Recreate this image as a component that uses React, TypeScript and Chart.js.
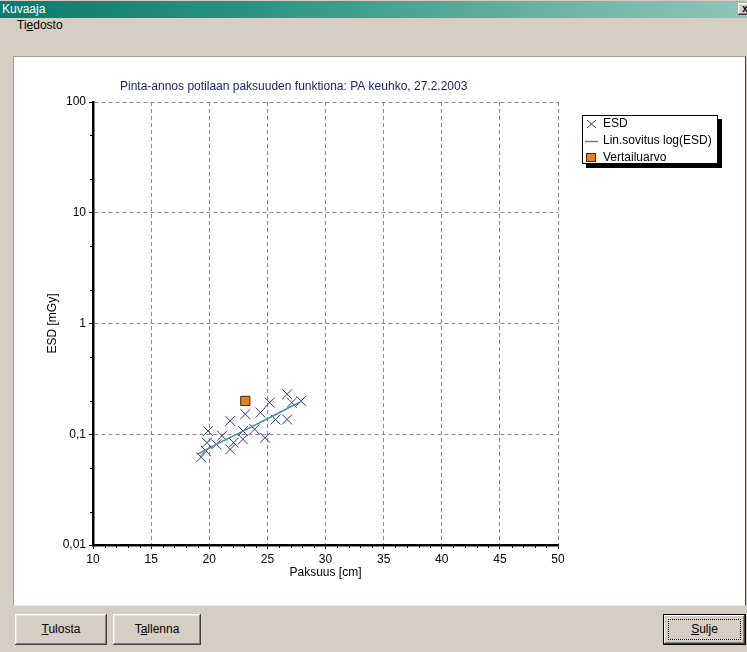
import React, { useEffect, useRef } from "react";
import { Chart, registerables } from "chart.js";

Chart.register(...registerables);

// ---- data ----
const chartTitle = "Pinta-annos potilaan paksuuden funktiona: PA keuhko, 27.2.2003";
const xAxisTitle = "Paksuus [cm]";
const yAxisTitle = "ESD [mGy]";
const xTicks = [10, 15, 20, 25, 30, 35, 40, 45, 50];
const yTicks = [0.01, 0.1, 1, 10, 100];
const yTickLabels = ["0,01", "0,1", "1", "10", "100"];

const esdThickness = [19.3, 19.7, 19.8, 19.9, 20.6, 21.1, 21.8, 21.8, 22.1, 22.9, 23.1, 22.9, 23.9, 24.4, 24.8, 25.2, 25.7, 26.7, 26.7, 27.1, 27.9];
const esdValues = [0.062, 0.071, 0.084, 0.107, 0.081, 0.097, 0.132, 0.073, 0.084, 0.107, 0.152, 0.09, 0.111, 0.157, 0.093, 0.193, 0.136, 0.136, 0.23, 0.193, 0.2];

const fitThickness = [19.0, 21.0, 23.0, 25.0, 27.0, 28.0];
const fitValues = [0.066, 0.085, 0.108, 0.138, 0.177, 0.2];

const refThickness = [23.1];
const refValues = [0.2];

const legendLabels = ["ESD", "Lin.sovitus log(ESD)", "Vertailuarvo"];

const FONT = '"Liberation Sans", Arial, sans-serif';
const ESD_COLOR = "#2b3a85";
const FIT_COLOR = "#4f8aa0";
const REF_COLOR = "#ee7d1e";

const titlePlugin = {
  id: "customTitle",
  afterDraw(chart: any) {
    const ctx = chart.ctx;
    ctx.save();
    ctx.font = `12px ${FONT}`;
    ctx.fillStyle = "#1c1c6e";
    ctx.textAlign = "left";
    ctx.textBaseline = "middle";
    ctx.fillText(chartTitle, 106, 30);
    ctx.restore();
  },
};

const minorTickPlugin = {
  id: "minorTicks",
  afterDraw(chart: any) {
    const { ctx, chartArea } = chart;
    const xs = chart.scales.x;
    const ys = chart.scales.y;
    ctx.save();
    ctx.strokeStyle = "#000";
    ctx.lineWidth = 1;
    ctx.beginPath();
    for (let v = xTicks[0] + 1; v < xTicks[xTicks.length - 1]; v++) {
      if (v % 5 === 0) continue;
      const px = Math.round(xs.getPixelForValue(v)) + 0.5;
      ctx.moveTo(px, chartArea.bottom);
      ctx.lineTo(px, chartArea.bottom + 3);
    }
    for (let i = 0; i < yTicks.length - 1; i++) {
      for (const m of [2, 5]) {
        const py = Math.round(ys.getPixelForValue(yTicks[i] * m)) + 0.5;
        ctx.moveTo(chartArea.left - 3, py);
        ctx.lineTo(chartArea.left, py);
      }
    }
    ctx.stroke();
    ctx.restore();
  },
};

function ChartCanvas() {
  const ref = useRef<HTMLCanvasElement | null>(null);
  useEffect(() => {
    if (!ref.current) return;
    const chart = new Chart(ref.current, {
      type: "scatter",
      data: {
        datasets: [
          {
            label: legendLabels[2],
            data: refThickness.map((x, i) => ({ x, y: refValues[i] })),
            pointStyle: "rect",
            pointRadius: 6.5,
            backgroundColor: REF_COLOR,
            borderColor: "#3a2a10",
            borderWidth: 1,
            showLine: false,
          },
          {
            label: legendLabels[1],
            data: fitThickness.map((x, i) => ({ x, y: fitValues[i] })),
            showLine: true,
            borderColor: FIT_COLOR,
            borderWidth: 1.5,
            pointRadius: 0,
            fill: false,
          },
          {
            label: legendLabels[0],
            data: esdThickness.map((x, i) => ({ x, y: esdValues[i] })),
            pointStyle: "crossRot",
            pointRadius: 7,
            borderColor: ESD_COLOR,
            backgroundColor: ESD_COLOR,
            borderWidth: 1,
            showLine: false,
          },
        ],
      } as any,
      options: {
        animation: false,
        responsive: true,
        maintainAspectRatio: false,
        layout: { padding: { left: 31, right: 187, top: 45, bottom: 25 } },
        plugins: {
          legend: { display: false },
          tooltip: { enabled: false },
          title: { display: false },
        },
        scales: {
          x: {
            type: "linear",
            min: xTicks[0],
            max: xTicks[xTicks.length - 1],
            afterBuildTicks: (s: any) => {
              s.ticks = xTicks.map((v) => ({ value: v }));
            },
            afterFit: (s: any) => {
              s.height = 35;
            },
            ticks: {
              font: { family: FONT, size: 12 },
              color: "#000",
              padding: 3,
              maxRotation: 0,
              autoSkip: false,
            },
            grid: { color: "#8a8a8a", lineWidth: 1, tickLength: 4, tickColor: "#000", tickWidth: 1 },
            border: { display: true, color: "#000", width: 2.5, dash: [4, 3] },
            title: {
              display: true,
              text: xAxisTitle,
              font: { family: FONT, size: 12 },
              color: "#000",
              padding: { top: 0, bottom: 0 },
            },
          },
          y: {
            type: "logarithmic",
            min: yTicks[0],
            max: yTicks[yTicks.length - 1],
            afterBuildTicks: (s: any) => {
              s.ticks = yTicks.map((v) => ({ value: v }));
            },
            afterFit: (s: any) => {
              s.width = 48;
            },
            ticks: {
              font: { family: FONT, size: 12 },
              color: "#000",
              padding: 3,
              autoSkip: false,
              callback: (_v: any, i: number) => yTickLabels[i],
            },
            grid: { color: "#8a8a8a", lineWidth: 1, tickLength: 4, tickColor: "#000", tickWidth: 1 },
            border: { display: true, color: "#000", width: 2.5, dash: [4, 3] },
            title: {
              display: true,
              text: yAxisTitle,
              font: { family: FONT, size: 12 },
              color: "#000",
              padding: { top: 0, bottom: 0 },
            },
          },
        },
      } as any,
      plugins: [titlePlugin, minorTickPlugin],
    });
    return () => chart.destroy();
  }, []);
  return (
    <div style={{ position: "absolute", left: 0, top: 0, width: 731, height: 548 }}>
      <canvas ref={ref} />
    </div>
  );
}

const bevel =
  "inset -1px -1px #404040, inset 1px 1px #ffffff, inset -2px -2px #808080, inset 2px 2px #e8e4dc";

function Button(props: { left: number; width: number; pre: string; u: string; post: string; def?: boolean }) {
  const { left, width, pre, u, post, def } = props;
  return (
    <div
      style={{
        position: "absolute",
        left,
        top: 614,
        width,
        height: 31,
        background: "#d6cec2",
        boxShadow: def
          ? "inset 0 0 0 1px #000, inset -2px -2px #404040, inset 2px 2px #ffffff, inset -3px -3px #808080"
          : bevel,
        fontSize: 12,
        lineHeight: "31px",
        textAlign: "center",
        color: "#000",
      }}
    >
      {def && (
        <div
          style={{
            position: "absolute",
            left: 5,
            top: 5,
            right: 5,
            bottom: 5,
            border: "1px dotted #000",
          }}
        />
      )}
      <span style={{ position: "relative" }}>
        {pre}
        <u>{u}</u>
        {post}
      </span>
    </div>
  );
}

export default function App() {
  return (
    <div
      style={{
        position: "fixed",
        left: 0,
        top: 0,
        width: 747,
        height: 652,
        background: "#d6cec2",
        overflow: "hidden",
        fontFamily: FONT,
      }}
    >
      {/* title bar */}
      <div
        style={{
          position: "absolute",
          left: 0,
          top: 1,
          width: 747,
          height: 17,
          background: "linear-gradient(to right, #0b7a6c 0%, #2a9585 35%, #6db4a4 75%, #8ec6b8 100%)",
        }}
      >
        <span
          style={{
            position: "absolute",
            left: 2,
            top: 0,
            color: "#fff",
            fontSize: 12,
            lineHeight: "17px",
          }}
        >
          Kuvaaja
        </span>
        <div
          style={{
            position: "absolute",
            left: 738,
            top: 2,
            width: 14,
            height: 12,
            background: "#d6cec2",
            boxShadow: bevel,
            fontSize: 10,
            fontWeight: "bold",
            lineHeight: "12px",
            textAlign: "center",
          }}
        >
          x
        </div>
      </div>
      {/* menu */}
      <div style={{ position: "absolute", left: 17, top: 17, fontSize: 12, lineHeight: "16px", color: "#000" }}>
        Ti<u>e</u>dosto
      </div>
      {/* panel */}
      <div
        style={{
          position: "absolute",
          left: 13,
          top: 56,
          width: 731,
          height: 548,
          background: "#fff",
          borderTop: "1px solid #a49e94",
          borderLeft: "1px solid #a49e94",
          borderRight: "1px solid #404040",
          borderBottom: "1px solid #efebe4",
        }}
      >
        <ChartCanvas />
      </div>
      {/* legend */}
      <div
        style={{
          position: "absolute",
          left: 582,
          top: 115,
          width: 134,
          height: 47,
          background: "#fff",
          border: "1px solid #000",
          boxShadow: "4px 4px 0 #000",
          fontSize: 12,
          color: "#000",
        }}
      >
        <div style={{ position: "absolute", left: 0, top: -1, height: 17, width: 134 }}>
          <svg width="12" height="12" style={{ position: "absolute", left: 3, top: 3 }}>
            <line x1="1" y1="2" x2="10" y2="10" stroke={ESD_COLOR} strokeWidth="1" />
            <line x1="10" y1="2" x2="1" y2="10" stroke={ESD_COLOR} strokeWidth="1" />
          </svg>
          <span style={{ position: "absolute", left: 20, lineHeight: "17px" }}>{legendLabels[0]}</span>
        </div>
        <div style={{ position: "absolute", left: 0, top: 16, height: 17, width: 134 }}>
          <svg width="14" height="12" style={{ position: "absolute", left: 2, top: 3 }}>
            <line x1="0" y1="6.5" x2="13" y2="6.5" stroke={FIT_COLOR} strokeWidth="1.5" />
          </svg>
          <span style={{ position: "absolute", left: 20, lineHeight: "17px" }}>{legendLabels[1]}</span>
        </div>
        <div style={{ position: "absolute", left: 0, top: 33, height: 17, width: 134 }}>
          <div
            style={{
              position: "absolute",
              left: 3,
              top: 4,
              width: 8,
              height: 7,
              background: REF_COLOR,
              border: "1px solid #3a2a10",
            }}
          />
          <span style={{ position: "absolute", left: 20, lineHeight: "17px" }}>{legendLabels[2]}</span>
        </div>
      </div>
      {/* buttons */}
      <Button left={15} width={92} pre="" u="T" post="ulosta" />
      <Button left={113} width={88} pre="T" u="a" post="llenna" />
      <Button left={663} width={83} pre="" u="S" post="ulje" def />
    </div>
  );
}
